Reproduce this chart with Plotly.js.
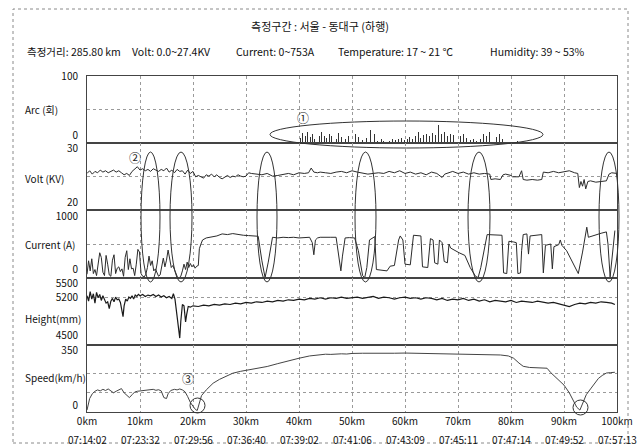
<!DOCTYPE html>
<html><head><meta charset="utf-8">
<script src="https://cdn.plot.ly/plotly-3.0.1.min.js"></script>
<style>html,body{margin:0;padding:0;background:#fff}#chart{width:640px;height:446px}</style>
</head><body><div id="chart"></div>
<script>
// ---------- data ----------
const kmTickVals = [0,10,20,30,40,50,60,70,80,90,100];
const kmTickLabels = ['0km','10km','20km','30km','40km','50km','60km','70km','80km','90km','100km'];
const timeLabels = ['07:14:02','07:23:32','07:29:56','07:36:40','07:39:02','07:41:06','07:43:09','07:45:11','07:47:14','07:49:52','07:57:13'];

const titleText = '측정구간 : 서울 - 동대구 (하행)';
const infoTexts = ['측정거리: 285.80 km','Volt: 0.0~27.4KV','Current: 0~753A','Temperature: 17 ~ 21 ℃','Humidity: 39 ~ 53%'];
const panelNames = ['Arc (회)','Volt (KV)','Current (A)','Height(mm)','Speed(km/h)'];

const arcTickVals = [99, 12],     arcTickText = ['100','0'];
const voltTickVals = [29.2, 21.2], voltTickText = ['30','20'];
const curTickVals = [915, 120],   curTickText = ['1000','0'];
const hgtTickVals = [5410, 5200, 4635], hgtTickText = ['5500','5200','4500'];
const spdTickVals = [318, 32],    spdTickText = ['350','0'];

const arcKm = [39.8,40.3,40.7,41.2,41.6,42.1,42.5,43.0,43.4,43.9,44.3,44.8,45.2,45.7,46.1,46.6,47.0,47.5,48.0,48.3,48.7,49.4,50.0,50.6,51.3,52.0,52.8,53.5,54.2,54.8,55.5,56.0,56.6,57.1,57.6,58.2,58.8,59.3,59.9,60.4,60.9,61.4,62.0,62.5,63.0,63.5,64.1,64.6,65.2,65.7,66.3,66.9,67.5,68.0,68.6,69.2,69.8,70.4,71.0,71.6,72.3,72.9,73.5,74.2,74.8,75.4,76.0,76.6,77.2,77.8,78.4,81.2,98.1];
const arcVal = [12,8,15,10,17,9,13,7,14,10,16,11,8,14,10,13,7,15,9,12,6,10,7,13,9,5,8,19,14,4,6,3,5,4,7,5,6,8,5,7,9,6,11,16,8,12,14,10,15,12,27,13,16,11,14,12,15,10,13,8,5,6,4,7,13,10,16,12,9,14,7,4,9];

const voltKm = [0,0.5,1,1.5,2,2.5,3,3.5,4,4.5,5,5.5,6,6.5,7,7.5,8,8.5,9,9.5,10,10.5,11,11.5,12,12.5,13,13.5,14,14.5,15,15.5,16,16.5,17,17.5,18,18.5,19,19.5,20,20.5,21,21.5,22,22.5,23,23.5,24,24.5,25,25.5,26,26.5,27,27.5,28,28.5,29,29.5,30,
 30.5,31,32,33,34,35,36,37,38,39,40,41,41.8,42.3,42.8,43.5,44,45,46,47,48,49,50,51,52,53,54,55,56,57,58,59,60,61,62,63,64,65,66,67,67.5,68,69,70,71,72,73,74,75,76,76.2,77,78,78.5,79,80,80.3,81.5,82,82.3,83,84,85,85.8,86.1,87,88,89,90,91,92,92.6,92.9,93.2,93.5,93.8,94.1,94.5,95,96,97,98,98.5,99,100];
const voltVal = [25.5,25.9,25.4,25.8,25.6,26.0,25.7,25.9,25.6,25.8,26.0,25.7,25.9,25.6,25.3,25.5,25.2,25.8,26.1,26.5,26.0,26.2,25.9,26.1,25.8,26.2,26.0,25.8,26.1,25.9,26.3,25.7,26.0,25.6,26.1,25.8,25.9,25.4,26.0,25.5,25.8,25.0,25.2,25.0,24.8,25.3,25.1,25.4,25.0,25.3,24.9,24.7,25.0,25.2,24.9,25.1,25.0,25.3,25.1,25.0,25.1,
 25.6,25.5,25.4,25.3,25.5,25.1,25.2,25.4,25.5,25.3,25.6,25.5,25.6,26.3,25.7,25.6,25.7,25.6,25.5,25.7,25.8,25.6,25.9,25.7,25.6,25.4,25.5,25.6,25.5,25.8,25.6,25.9,25.5,25.7,25.4,25.6,25.3,25.7,25.5,24.9,25.4,25.5,25.8,25.5,25.7,25.4,25.6,25.4,25.5,25.4,24.6,24.7,24.6,25.3,25.4,25.2,25.0,25.0,25.9,24.6,24.5,24.6,24.5,24.6,25.7,25.6,25.8,25.6,25.7,25.9,25.6,25.5,23.4,24.3,23.6,24.6,23.2,24.3,24.4,24.2,24.3,24.4,25.4,25.6,25.5];

const curKm = [0,0.3,0.6,0.9,1.2,1.5,1.8,2.1,2.4,2.7,3.0,3.3,3.6,3.9,4.2,4.5,4.8,5.1,5.4,5.7,6.0,6.3,6.6,6.9,7.2,7.5,7.8,8.1,8.4,8.7,9.0,9.3,9.6,9.9,10.2,10.5,10.8,11.1,11.4,11.7,12.0,12.3,12.6,12.9,13.2,13.5,13.8,14.1,14.4,14.7,15.0,15.3,15.6,15.9,16.2,16.5,16.8,17.1,17.4,17.7,18.0,18.3,18.6,18.9,19.2,19.5,19.8,20.1,20.4,20.7,21.0,
 21.2,21.5,21.8,22.5,23.5,24.5,25.5,26.5,27.5,28.5,29.5,30.5,31.5,32.3,33.0,33.6,34.2,35.0,36,37,38,39,40,41,42,42.5,42.8,43.1,43.5,44,45,46,47,47.6,47.9,48.2,48.7,49.5,50.5,51.2,52.0,52.4,52.8,53.3,54.3,54.6,55.5,56.6,57.2,58.0,58.8,59.1,59.6,60.0,61.0,61.6,63.0,63.3,64.3,64.8,65.3,65.6,66.2,66.5,67.0,67.4,68.0,68.3,68.6,69.0,69.6,70.2,71.3,72.3,73.3,73.8,74.3,75.0,75.5,78.3,78.6,79.2,79.6,80.5,81.0,81.3,81.8,82.0,82.3,83.0,83.3,83.6,85.8,86.1,86.5,87.5,87.8,88.1,89.0,89.3,89.6,90.5,91.5,92.5,92.7,93.5,94.0,94.3,94.6,95.3,97.0,98.0,98.3,98.7,99.1,99.6];
const curVal = [50,250,100,280,60,120,30,180,370,300,80,30,330,200,40,20,260,340,60,140,160,90,130,20,300,400,120,280,130,140,30,200,420,380,60,20,10,50,150,320,180,250,100,130,60,20,40,170,290,160,260,410,250,150,180,120,40,0,0,20,100,200,120,230,150,210,160,190,140,170,180,
 430,500,560,590,600,620,650,640,655,640,630,625,620,615,250,0,230,600,590,600,595,600,590,595,600,520,340,560,590,600,605,600,600,300,100,320,590,595,590,400,30,0,150,560,610,120,110,100,170,180,560,620,560,200,190,630,620,160,150,580,560,220,200,560,520,240,220,500,440,420,390,370,330,150,20,0,150,450,640,630,70,60,540,530,520,60,70,400,640,650,350,620,640,70,480,500,130,460,490,560,480,400,250,100,60,380,590,750,600,620,660,680,500,10,300,700];

const hgtKm = [0,0.3,0.6,0.9,1.2,1.5,1.8,2.1,2.4,2.7,3.0,3.3,3.6,3.9,4.2,4.5,4.8,5.1,5.4,5.7,6.0,6.3,6.6,6.8,7.0,7.3,7.6,7.9,8.2,8.5,8.8,9.1,9.4,9.7,10,10.5,11,11.5,12,12.5,13,13.5,14,14.5,15,15.5,16,16.3,16.6,17.0,17.3,17.5,17.7,18.0,18.3,18.6,18.8,19.1,19.5,
 20,21,22,23,24,25,26,27,28,29,30,31,32,33,34,35,36,37,38,39,40,41,42,43,44,45,46,47,48,49,50,51,52,53,54,55,56,57,58,59,60,61,62,63,64,65,66,67,68,69,70,71,72,73,74,75,76,77,78,79,80,81,82,83,84,85,86,87,88,89,90,91,92,93,94,95,96,97,98,99,99.6];
const hgtVal = [5230,5150,5290,5180,5260,5120,5280,5200,5250,5160,5230,5180,5120,5140,5040,5150,5190,5140,5210,5170,5180,5130,5000,4920,5080,5180,5150,5210,5190,5230,5180,5240,5220,5250,5230,5250,5220,5240,5230,5250,5220,5240,5210,5230,5200,5220,5190,5260,5180,4900,4700,4600,4850,5100,5080,4840,4950,5070,5060,
 5080,5070,5090,5080,5100,5090,5110,5100,5120,5110,5130,5120,5140,5130,5150,5140,5160,5150,5170,5160,5180,5170,5190,5180,5200,5180,5200,5190,5210,5190,5200,5210,5190,5200,5220,5190,5210,5200,5180,5200,5210,5190,5200,5180,5200,5190,5170,5190,5160,5180,5170,5190,5160,5180,5150,5170,5140,5160,5150,5140,5160,5130,5150,5140,5130,5150,5140,5120,5130,5110,5080,5070,5100,5120,5110,5130,5120,5140,5130,5120,5100];

const spdKm = [0,0.5,1,1.5,2,2.5,3,3.5,4,4.5,5,5.5,6,6.5,7,7.5,8,8.5,9,9.5,10,11,12,12.5,13,13.5,14,14.5,15,15.3,15.8,16.5,17,17.5,18,18.5,19,19.5,20,20.5,20.8,21.2,21.6,22.5,23.8,25,26.3,27.5,29,31,33,34,36,38,40,42,44,45,46,47,48,49,50,52,54,56,58,60,62,64,66,68,70,72,74,76,78,79.5,80.5,81.5,82.3,83.5,85,86,86.8,87.5,88.5,89.2,90,91,91.8,92.4,93,93.5,94.2,95,95.8,96.5,97.2,98,98.8,99.6];
const spdVal = [10,70,95,108,115,110,118,112,120,110,100,108,115,122,100,85,75,90,104,108,110,112,115,118,113,116,110,75,70,95,112,118,115,120,115,105,80,50,30,12,8,50,85,115,150,170,188,202,212,222,232,237,252,268,280,292,298,301,300,302,303,302,305,306,305,307,306,307,306,305,305,304,303,302,302,300,297,292,280,255,238,232,230,232,228,205,180,165,140,100,55,25,10,40,90,120,150,175,190,203,205,207];

// ---------- layout helpers ----------
const FONT = '"Noto Sans CJK KR", "Noto Sans", sans-serif';
const W = 640, H = 446, L = 87, R = 617, T = 76, B = 412;
const px = x => (x - L) / (R - L);
const py = y => (B - y) / (B - T);
const LINE = '#2b2b2b';
const TXT = '#111';

function yax(domain, range, tv, tt, gridVals) {
  return {
    domain, range, tickmode: 'array', tickvals: tv, ticktext: tt,
    showgrid: false, zeroline: false, showline: true, mirror: true,
    linecolor: '#444', linewidth: 1, ticks: '', ticklabelstandoff: 6,
    tickfont: {family: FONT, size: 10, color: TXT}, fixedrange: true,
    minor: {tickmode: 'array', tickvals: gridVals, showgrid: true, gridcolor: '#9a9a9a', griddash: 'dot', gridwidth: 1, ticks: ''}
  };
}

const traces = [
  {type: 'bar', x: arcKm, y: arcVal, xaxis: 'x', yaxis: 'y', width: 0.16, marker: {color: '#333', line: {width: 0}}, hoverinfo: 'skip'},
  {type: 'scatter', mode: 'lines', x: voltKm, y: voltVal, xaxis: 'x', yaxis: 'y2', line: {color: LINE, width: 1}},
  {type: 'scatter', mode: 'lines', x: curKm, y: curVal, xaxis: 'x', yaxis: 'y3', line: {color: LINE, width: 1}},
  {type: 'scatter', mode: 'lines', x: hgtKm, y: hgtVal, xaxis: 'x', yaxis: 'y4', line: {color: '#1a1a1a', width: 1.2}},
  {type: 'scatter', mode: 'lines', x: spdKm, y: spdVal, xaxis: 'x', yaxis: 'y5', line: {color: '#444', width: 1}}
];

const annotations = [];
const labelY = [109, 178, 244, 318, 377];
panelNames.forEach((t, i) => annotations.push({text: t, xref: 'paper', yref: 'paper', x: px(23), y: py(labelY[i]), xanchor: 'left', yanchor: 'middle', showarrow: false, font: {family: FONT, size: 10, color: TXT}}));
timeLabels.forEach((t, i) => annotations.push({text: t, xref: 'x', yref: 'paper', x: kmTickVals[i], y: py(439), xanchor: 'center', yanchor: 'middle', showarrow: false, font: {family: FONT, size: 10, color: TXT}}));
const infoX = [25, 130, 234, 336, 488];
infoTexts.forEach((t, i) => annotations.push({text: t, xref: 'paper', yref: 'paper', x: px(infoX[i]), y: py(51), xanchor: 'left', yanchor: 'middle', showarrow: false, font: {family: FONT, size: 10.5, color: TXT}}));
const marks = [['①', 303, 117], ['②', 135, 157], ['③', 188, 378]];
marks.forEach(m => annotations.push({text: m[0], xref: 'paper', yref: 'paper', x: px(m[1]), y: py(m[2]), xanchor: 'center', yanchor: 'middle', showarrow: false, font: {family: FONT, size: 12, color: '#222'}}));

const shapes = [];
function shapePx(x0, y0, x1, y1, type, dash, color) {
  shapes.push({type, xref: 'paper', yref: 'paper', x0: px(x0), x1: px(x1), y0: py(y1), y1: py(y0), line: {color, width: 1, dash}, fillcolor: 'rgba(0,0,0,0)', layer: 'above'});
}
shapePx(13, 9, 628, 443, 'rect', 'dot', '#8a8a8a');
shapePx(270, 121, 543, 148, 'circle', 'solid', '#333');
[[141,160],[170,192],[257,277],[355,376],[468,490],[599,619]].forEach(o => shapePx(o[0], 152, o[1], 282, 'circle', 'solid', '#333'));
shapePx(190, 398, 205, 413, 'circle', 'solid', '#333');
shapePx(573, 400, 588, 415, 'circle', 'solid', '#333');

const layout = {
  width: W, height: H, margin: {l: L, r: W - R, t: T, b: H - B},
  paper_bgcolor: '#fff', plot_bgcolor: '#fff', showlegend: false, bargap: 0,
  title: {text: titleText, x: 0.5, xref: 'container', xanchor: 'center', y: 1 - 27 / H, yref: 'container', yanchor: 'middle', font: {family: FONT, size: 11, color: TXT}},
  xaxis: {domain: [0, 1], range: [0, 100], anchor: 'y5', tickmode: 'array', tickvals: kmTickVals, ticktext: kmTickLabels,
    showgrid: true, gridcolor: '#9a9a9a', griddash: 'dot', gridwidth: 1, zeroline: false, showline: true, mirror: 'all',
    linecolor: '#444', linewidth: 1, ticks: '', tickfont: {family: FONT, size: 10, color: TXT}, fixedrange: true},
  yaxis: yax([0.8, 1], [0, 100], arcTickVals, arcTickText, [50]),
  yaxis2: yax([0.6, 0.8], [20, 30], voltTickVals, voltTickText, [25]),
  yaxis3: yax([0.4, 0.6], [0, 1000], curTickVals, curTickText, [500]),
  yaxis4: yax([0.2, 0.4], [4500, 5500], hgtTickVals, hgtTickText, [5200]),
  yaxis5: yax([0, 0.2], [0, 350], spdTickVals, spdTickText, [100, 200]),
  annotations, shapes
};

Plotly.newPlot('chart', traces, layout, {staticPlot: true, displayModeBar: false});
</script></body></html>
